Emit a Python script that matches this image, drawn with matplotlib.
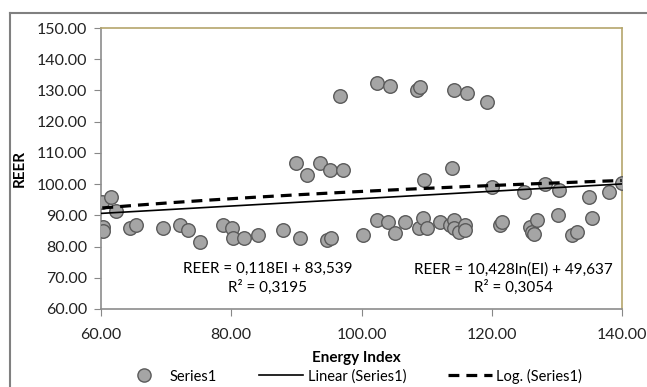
import numpy as np
import matplotlib
matplotlib.use("Agg")
import matplotlib.pyplot as plt
from matplotlib.lines import Line2D

# energy index vs REER
energy = [60.2, 61.5, 62.3, 60.35, 60.35, 64.45, 65.3, 69.5, 72.2, 73.4,
          75.25, 78.7, 80.1, 80.2, 81.9, 84.1, 87.9, 89.9, 90.6, 91.7,
          93.6, 94.75, 95.3, 95.2, 96.7, 97.1, 100.2, 102.4, 102.4, 104.1,
          104.4, 105.1, 106.7, 108.5, 108.9, 109.0, 109.4, 109.6, 110.0, 112.05,
          113.6, 113.9, 114.25, 114.25, 114.25, 114.9, 115.9, 115.9, 116.2, 119.3,
          120.0, 121.3, 121.6, 125.0, 125.9, 126.2, 126.5, 126.9, 128.1, 130.1,
          130.4, 132.3, 133.1, 135.0, 135.4, 138.0, 139.95]
reer = [94.2, 95.8, 91.5, 86.2, 85.1, 86.0, 86.8, 86.0, 86.8, 85.3,
        81.5, 86.8, 86.0, 82.8, 82.8, 83.8, 85.3, 106.9, 82.8, 103.0,
        106.9, 82.0, 82.8, 104.4, 128.3, 104.4, 83.8, 88.5, 132.4, 87.8,
        131.5, 84.4, 87.8, 130.1, 86.0, 131.0, 89.2, 101.2, 86.0, 87.8,
        86.9, 105.3, 88.5, 85.8, 130.0, 84.8, 86.9, 85.3, 129.3, 126.2,
        99.0, 86.9, 88.0, 97.4, 86.2, 84.8, 83.9, 88.5, 99.9, 90.1,
        98.1, 83.7, 84.6, 95.8, 89.2, 97.4, 100.5]

# trendline coefficients as printed on the chart
lin_slope, lin_icpt, lin_r2 = 0.118, 83.539, 0.3195
log_coef, log_icpt, log_r2 = 10.428, 49.637, 0.3054

xticks = [60, 80, 100, 120, 140]
yticks = [60, 70, 80, 90, 100, 110, 120, 130, 140, 150]

plt.rcParams["font.family"] = ["Lato", "DejaVu Sans"]
plt.rcParams["font.size"] = 10

fig = plt.figure(figsize=(6.47, 3.87), dpi=100)
ax = fig.add_axes([101 / 647, 1 - 309 / 387, 521 / 647, 281 / 387])

ax.scatter(energy, reer, s=95, c="#a5a5a5", edgecolors="#5a5a5a",
           linewidths=1.0, zorder=3)

xs = np.linspace(60, 140, 200)
ax.plot(xs, lin_slope * xs + lin_icpt, color="black", lw=1.2, zorder=4)
xl = np.linspace(min(energy), max(energy), 200)
ax.plot(xl, log_coef * np.log(xl) + log_icpt, color="black", lw=2.3,
        ls=(0, (3.4, 2.2)), zorder=4)

ax.set_xlim(60, 140)
ax.set_ylim(60, 150)
ax.set_xticks(xticks)
ax.set_yticks(yticks)
ax.set_xticklabels(["%.2f" % v for v in xticks])
ax.set_yticklabels(["%.2f" % v for v in yticks])
ax.tick_params(direction="out", length=5, color="#888888", labelsize=11.5,
               labelcolor="#222222")
ax.tick_params(axis="x", pad=9)
ax.tick_params(axis="y", pad=5)
for s in ("left", "bottom"):
    ax.spines[s].set_color("#8c8c8c")
for s in ("top", "right"):
    ax.spines[s].set_color("#b5a66c")
for s in ax.spines.values():
    s.set_linewidth(1.2)

ax.set_ylabel("REER", fontweight="bold", fontsize=11)
ax.yaxis.set_label_coords(-(101 - 27) / 521, 0.5)
fig.text(356 / 647, 1 - 358 / 387, "Energy Index", fontweight="bold",
         fontsize=11, ha="center", va="center")

ax.text(85.6, 69.8, "REER = 0,118EI + 83,539\nR² = %s" % str(lin_r2).replace(".", ","),
        ha="center", va="center", fontsize=11, linespacing=1.25)
ax.text(123.3, 69.8, "REER = 10,428ln(EI) + 49,637\nR² = %s" % str(log_r2).replace(".", ","),
        ha="center", va="center", fontsize=11, linespacing=1.25)

handles = [
    Line2D([], [], ls="none", marker="o", ms=9.5, mfc="#a5a5a5", mec="#5a5a5a"),
    Line2D([], [], color="black", lw=1.2),
    Line2D([], [], color="black", lw=2.3, ls=(0, (3.4, 2.2))),
]
fig.legend(handles, ["Series1", "Linear (Series1)", "Log. (Series1)"],
           loc="center", bbox_to_anchor=(352 / 647, 1 - 376 / 387), ncol=3,
           frameon=False, fontsize=10.5, handlelength=3.0, handletextpad=0.3,
           columnspacing=2.9)

# outer frame of the figure box
fig.add_artist(Line2D([10 / 647, 1], [1 - 13 / 387, 1 - 13 / 387],
                      color="#808080", lw=1.5))
fig.add_artist(Line2D([10 / 647, 10 / 647], [0, 1 - 13 / 387],
                      color="#808080", lw=1.5))

fig.savefig("out.png", dpi=100)
